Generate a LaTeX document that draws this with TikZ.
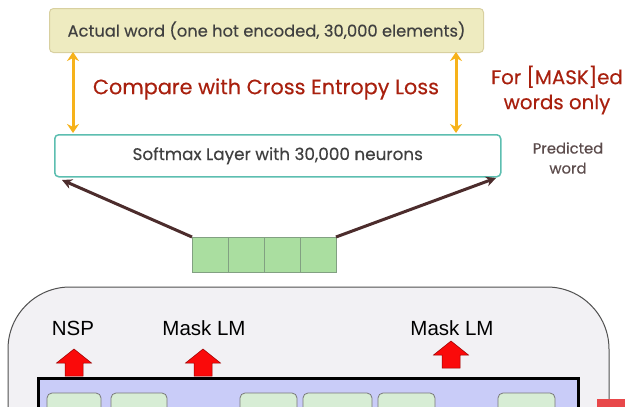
\documentclass[tikz,border=0pt]{standalone}
\usepackage{fontspec}
\setmainfont{Poppins}[FakeBold=0.35]
\newfontfamily\arialfont{Liberation Sans}
\usetikzlibrary{arrows.meta}
\definecolor{boxyellow}{RGB}{238,235,192}
\definecolor{boxyellowline}{RGB}{216,208,160}
\definecolor{tealline}{RGB}{92,190,176}
\definecolor{orangearrow}{RGB}{246,178,26}
\definecolor{lossred}{RGB}{168,32,14}
\definecolor{textgray}{RGB}{64,64,64}
\definecolor{predgray}{RGB}{92,76,76}
\definecolor{brownarrow}{RGB}{76,44,44}
\definecolor{cellgreen}{RGB}{170,222,160}
\definecolor{cellline}{RGB}{130,160,130}
\definecolor{panelfill}{RGB}{242,241,244}
\definecolor{panelline}{RGB}{80,80,80}
\definecolor{layerfill}{RGB}{201,204,248}
\definecolor{tokfill}{RGB}{215,237,213}
\definecolor{tokline}{RGB}{120,120,120}
\definecolor{upred}{RGB}{250,10,10}
\definecolor{cornerred}{RGB}{232,72,74}
\tikzset{
  labelbox/.style={draw, rounded corners=4pt, minimum height=44pt, inner sep=0pt},
  compare/.style={{Stealth[length=9pt,width=12pt]}-{Stealth[length=9pt,width=12pt]}, orangearrow, line width=3pt},
  feed/.style={-{Stealth[length=10pt,width=10pt]}, brownarrow, line width=3pt},
  cell/.style={draw=cellline, fill=cellgreen, line width=1pt, minimum width=36pt, minimum height=35pt, inner sep=0pt, outer sep=0pt},
  token/.style={draw=tokline, fill=tokfill, rounded corners=5pt, line width=0.8pt},
  headtext/.style={font=\arialfont\fontsize{20.5}{22}\selectfont, text=black},
  uparrow/.style={fill=upred, draw=red!60!black, line width=0.5pt}
}
\begin{document}
\begin{tikzpicture}[x=1pt,y=-1pt]
\useasboundingbox (0,0) rectangle (625,407);
\clip (0,0) rectangle (625,407);

% target and prediction boxes
\node[labelbox, fill=boxyellow, draw=boxyellowline, line width=1pt, minimum width=434pt, anchor=north west]
  (actual) at (49,8) {\color{textgray}\fontsize{16.3}{18}\selectfont Actual word (one hot encoded, 30,000 elements)};
\node[labelbox, fill=white, draw=tealline, line width=1.5pt, minimum width=446pt, minimum height=42pt, anchor=north west]
  (softmax) at (54,134) {\color{textgray}\fontsize{16.8}{18}\selectfont Softmax Layer with 30,000 neurons};

% loss comparison arrows
\coordinate (la) at (73,52);  \coordinate (lb) at (73,133);
\coordinate (ra) at (456,52); \coordinate (rb) at (456,133);
\draw[compare] (la) -- (lb);
\draw[compare] (ra) -- (rb);
\node[text=lossred, font=\fontsize{20.8}{22}\selectfont] (loss) at (266,89) {Compare with Cross Entropy Loss};
\node[text=lossred, font=\fontsize{19.8}{25}\selectfont, align=center] (only) at (557,90) {For [MASK]ed\\words only};
\node[text=predgray, font=\fontsize{14.8}{20}\selectfont, align=center] (pred) at (568,158) {Predicted\\word};

% output vector cells
\node[cell, anchor=north west] (c1) at (192,237) {};
\node[cell, anchor=west] (c2) at (c1.east) {};
\node[cell, anchor=west] (c3) at (c2.east) {};
\node[cell, anchor=west] (c4) at (c3.east) {};
\coordinate (lt) at (62,180);
\coordinate (rt) at (496,178);
\draw[feed] (c1.north west) -- (lt);
\draw[feed] (c4.north east) -- (rt);

% encoder panel
\draw[fill=panelfill, draw=panelline, line width=1pt, rounded corners=62pt] (8,287) rectangle (609,470);
\node[draw=black, fill=layerfill, line width=2.5pt, minimum width=540pt, minimum height=80pt, anchor=north west, inner sep=0pt] (layer) at (37,377) {};
\foreach \a/\b [count=\i] in {47/101, 111/167, 240/297, 303/372, 378/435, 498/555}
  \draw[token] (\a,393) rectangle (\b,430);

% task heads
\node[headtext] (nsp) at (73,328) {NSP};
\node[headtext] (mlm1) at (204,328) {Mask LM};
\node[headtext] (mlm2) at (452,328) {Mask LM};
\foreach \cx/\ty in {74/349, 203/349, 451/341}
  \draw[uparrow] (\cx,\ty) -- (\cx+17.5,\ty+14) -- (\cx+9,\ty+14) -- (\cx+9,\ty+27)
     -- (\cx-9,\ty+27) -- (\cx-9,\ty+14) -- (\cx-17.5,\ty+14) -- cycle;

% corner marker
\fill[cornerred] (597,399) rectangle (625,407);
\end{tikzpicture}
\end{document}
